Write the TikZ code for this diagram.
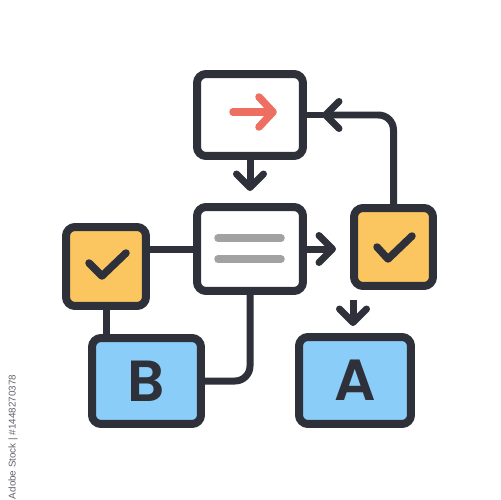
\documentclass[tikz,border=0pt]{standalone}
\usepackage{fontspec}
\setmainfont{Poppins}
\newfontfamily\letterfont{Poppins SemiBold}
\newfontfamily\wmfont{Liberation Sans}
\usetikzlibrary{arrows.meta}
\definecolor{ink}{HTML}{2E3139}
\definecolor{yel}{HTML}{FBC65F}
\definecolor{sky}{HTML}{8BCDF9}
\definecolor{redarr}{HTML}{EF6E62}
\definecolor{bar}{HTML}{A2A2A2}
\begin{document}
\begin{tikzpicture}[x=0.02cm,y=-0.02cm,
  box/.style={draw=ink, line width=0.16cm, rounded corners=0.18cm, inner sep=0pt, line join=round},
  conn/.style={draw=ink, line width=0.14cm},
  arr/.style={conn, -{Straight Barb[length=0.27cm,width=0.54cm,line cap=round,line join=round]}},
  glyph/.style={line width=0.15cm, line cap=round, line join=round},
  letter/.style={text=ink, font=\letterfont\fontsize{33}{33}\selectfont}]
\useasboundingbox[fill=white] (0,0) rectangle (500,500);
% nodes
\node[box, fill=white, minimum width=2.12cm, minimum height=1.64cm] (top) at (250,115) {};
\node[box, fill=white, minimum width=2.12cm, minimum height=1.68cm] (mid) at (250,249) {};
\node[box, fill=yel, minimum width=1.58cm, minimum height=1.56cm] (ryel) at (393.5,247) {};
\node[box, fill=yel, minimum width=1.60cm, minimum height=1.58cm] (lyel) at (106,266.5) {};
\node[box, fill=sky, minimum width=2.18cm, minimum height=1.72cm] (B) at (146.5,381) {};
\node[box, fill=sky, minimum width=2.24cm, minimum height=1.74cm] (A) at (355,380.5) {};
\node[letter] (Bl) at (B.center) {B};
\node[letter] (Al) at (A.center) {A};
% connectors
\draw[arr, shorten >=0.24cm] (top.south) -- (mid.north);
\draw[arr, shorten >=0.28cm] (mid.east) -- (mid.east -| ryel.west);
\draw[arr, rounded corners=0.3cm, shorten >=0.3cm] (ryel.north) |- (top.east);
\draw[conn] (top.east) -- ++(16,0);
\draw[conn] (mid.west) -- (mid.west -| lyel.east);
\draw[conn] (B.north -| lyel.south) -- (lyel.south);
\draw[conn, rounded corners=0.3cm] (mid.south) |- (B.east);
\coordinate (aTop) at (353,300);
\draw[arr, shorten >=0.14cm] (aTop) -- (aTop |- A.north);
% icons inside boxes
\draw[glyph, draw=redarr] (233,112) -- (270,112);
\draw[glyph, draw=redarr] (259,97) -- (273,112) -- (259,127);
\draw[glyph, draw=bar] (218,238) -- (281,238);
\draw[glyph, draw=bar] (218,259) -- (281,259);
\draw[glyph, draw=ink] (377,247) -- (388,259) -- (412,236);
\draw[glyph, draw=ink] (89,263) -- (102,276) -- (126,253);
% watermark caption
\node[rotate=90, text=ink!75, font=\wmfont\fontsize{5.6}{6}\selectfont] (wm) at (13,437) {Adobe Stock | \#1448270378};
\end{tikzpicture}
\end{document}
